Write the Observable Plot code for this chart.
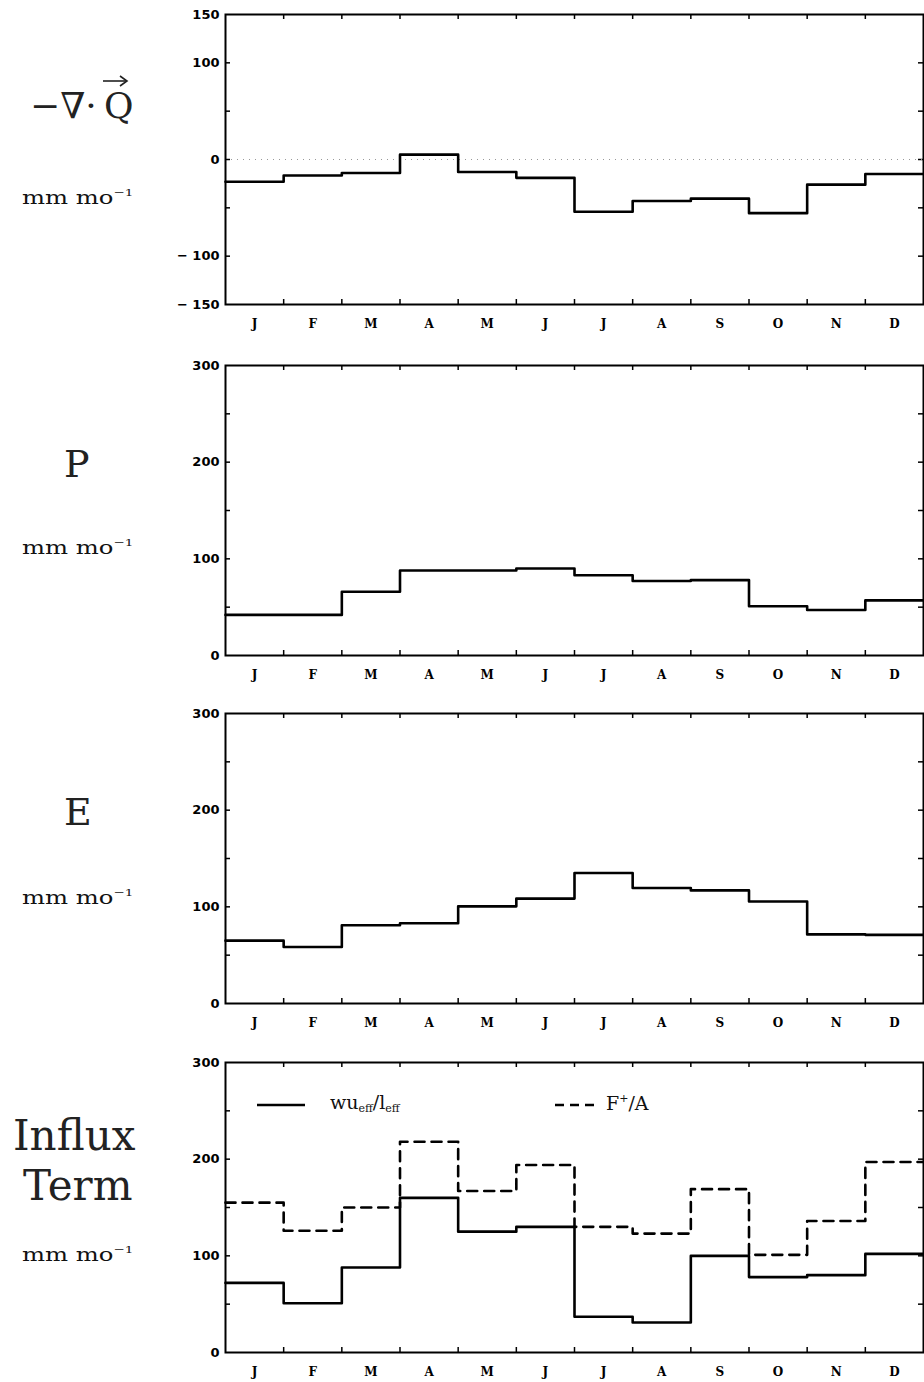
<!DOCTYPE html>
<html>
<head>
<meta charset="utf-8">
<script src="https://cdn.jsdelivr.net/npm/d3@7"></script>
<script src="https://cdn.jsdelivr.net/npm/@observablehq/plot@0.6"></script>
<style>
  html, body { margin: 0; padding: 0; background: #fff; overflow: hidden; }
  #root { position: relative; width: 924px; height: 1382px; }
  .panel { position: absolute; left: 0; }
  .lab { position: absolute; font-family: "DejaVu Serif", serif; color: #222; white-space: nowrap; line-height: 1; }
  .unit { position: absolute; font-family: "DejaVu Serif", serif; font-size: 18px; color: #111; white-space: nowrap; line-height: 1; transform: scaleX(1.35); transform-origin: left center; }
  .unit sup { font-size: 10px; vertical-align: 8px; }
  .leg { position: absolute; font-family: "DejaVu Serif", serif; font-size: 19px; color: #111; white-space: nowrap; line-height: 1; }
  .leg sub { font-size: 11px; vertical-align: -3px; }
  .leg sup { font-size: 11px; vertical-align: 8px; }
</style>
</head>
<body>
<div id="root"></div>
<script>
// ---- data ----
const months = ["J","F","M","A","M","J","J","A","S","O","N","D"];
const divQ = [-23, -16.5, -14, 5, -13, -19, -54, -43, -40.5, -55.5, -26, -15];
const precip = [42, 42, 66, 88, 88, 90, 83, 77, 78, 51, 47, 57];
const evap = [65, 58.5, 81, 83, 100.5, 108.5, 135, 119.5, 117, 105.5, 71.5, 71];
const influxWu = [72, 51, 88, 160, 125, 130, 37, 31, 100, 78, 80, 102];
const influxF = [155, 126, 150, 218, 167, 194, 130, 123, 169, 101, 136, 197];

const domainQ = [-150, 150];
const labelsQ = [-150, -100, 0, 100, 150];
const ticksQ = [-100, -50, 0, 50, 100];
const domain300 = [0, 300];
const labels300 = [0, 100, 200, 300];
const ticks300 = [50, 100, 150, 200, 250];

// ---- layout ----
const W = 924, mL = 225, mR = 1, mT = 14, plotH = 290, mB = 36;
const plotW = W - mL - mR;
const panelTops = [0, 351, 699, 1048];

function stepPoints(vals) {
  const pts = vals.map((v, i) => ({x: i, y: v}));
  pts.push({x: vals.length, y: vals[vals.length - 1]});
  return pts;
}

function fmt(d) { return d < 0 ? "\u2212 " + Math.abs(d) : String(d); }

function makePanel({series, domain, labels, ticks, zeroLine}) {
  const bounds = d3.range(1, 12);
  const marks = [
    Plot.axisY({ticks: labels, tickSize: 0, tickPadding: 6, tickFormat: fmt, label: null,
      fontSize: 13, fontWeight: "bold", fontFamily: "DejaVu Sans"}),
    Plot.tickY(ticks, {y: d => d, insetRight: plotW - 5, strokeWidth: 1.5}),
    Plot.tickY(ticks, {y: d => d, insetLeft: plotW - 5, strokeWidth: 1.5}),
    Plot.tickX(bounds, {x: d => d, insetBottom: plotH - 5, strokeWidth: 1.5}),
    Plot.tickX(bounds, {x: d => d, insetTop: plotH - 5, strokeWidth: 1.5}),
    Plot.text(months, {x: (d, i) => i + 0.5, text: d => d, frameAnchor: "bottom", dy: 23,
      fontSize: 12, fontWeight: "bold", fontFamily: "DejaVu Serif"})
  ];
  if (zeroLine) marks.push(Plot.ruleY([0], {stroke: "#999", strokeDasharray: "1,5", strokeWidth: 1}));
  for (const s of series) {
    marks.push(Plot.line(stepPoints(s.values), {x: "x", y: "y", curve: "step-after",
      stroke: "#000", strokeWidth: 2.6, strokeDasharray: s.dash || null}));
  }
  marks.push(Plot.frame({stroke: "#000", strokeWidth: 2}));
  return Plot.plot({
    width: W, height: mT + plotH + mB,
    marginLeft: mL, marginRight: mR, marginTop: mT, marginBottom: mB,
    x: {domain: [0, 12], axis: null},
    y: {domain, axis: null},
    style: {background: "white", color: "#000"},
    marks
  });
}

const root = document.getElementById("root");
const panels = [
  makePanel({series: [{values: divQ}], domain: domainQ, labels: labelsQ, ticks: ticksQ, zeroLine: true}),
  makePanel({series: [{values: precip}], domain: domain300, labels: labels300, ticks: ticks300}),
  makePanel({series: [{values: evap}], domain: domain300, labels: labels300, ticks: ticks300}),
  makePanel({series: [{values: influxF, dash: "10,7"}, {values: influxWu}], domain: domain300, labels: labels300, ticks: ticks300})
];
panels.forEach((p, i) => {
  p.classList.add("panel");
  p.style.top = panelTops[i] + "px";
  root.appendChild(p);
});

function addHTML(html) {
  root.insertAdjacentHTML("beforeend", html);
}
// left-hand labels
addHTML(`<div class="lab" style="left:30px;top:88px;font-size:36px;">\u2212\u2207\u00B7\u2009Q</div>`);
addHTML(`<div class="unit" style="left:22px;top:188px;">mm mo<sup>\u22121</sup></div>`);
addHTML(`<div class="lab" style="left:64px;top:445px;font-size:38px;">P</div>`);
addHTML(`<div class="unit" style="left:22px;top:538px;">mm mo<sup>\u22121</sup></div>`);
addHTML(`<div class="lab" style="left:64px;top:793px;font-size:38px;">E</div>`);
addHTML(`<div class="unit" style="left:22px;top:888px;">mm mo<sup>\u22121</sup></div>`);
addHTML(`<div class="lab" style="left:13px;top:1115px;font-size:42px;">Influx</div>`);
addHTML(`<div class="lab" style="left:23px;top:1165px;font-size:42px;">Term</div>`);
addHTML(`<div class="unit" style="left:22px;top:1245px;">mm mo<sup>\u22121</sup></div>`);

// vector arrow over Q, and legend lines in the bottom panel
addHTML(`<svg style="position:absolute;left:0;top:0;" width="924" height="1382">
  <line x1="103" y1="81" x2="126" y2="81" stroke="#222" stroke-width="1.6"/>
  <polyline points="120,76 127,81 120,86" fill="none" stroke="#222" stroke-width="1.6"/>
  <line x1="257" y1="1105" x2="305" y2="1105" stroke="#000" stroke-width="2.4"/>
  <line x1="555" y1="1105" x2="595" y2="1105" stroke="#000" stroke-width="2.4" stroke-dasharray="9,6"/>
</svg>`);
addHTML(`<div class="leg" style="left:330px;top:1093px;">wu<sub>eff</sub>/l<sub>eff</sub></div>`);
addHTML(`<div class="leg" style="left:606px;top:1093px;">F<sup>+</sup>/A</div>`);
</script>
</body>
</html>
